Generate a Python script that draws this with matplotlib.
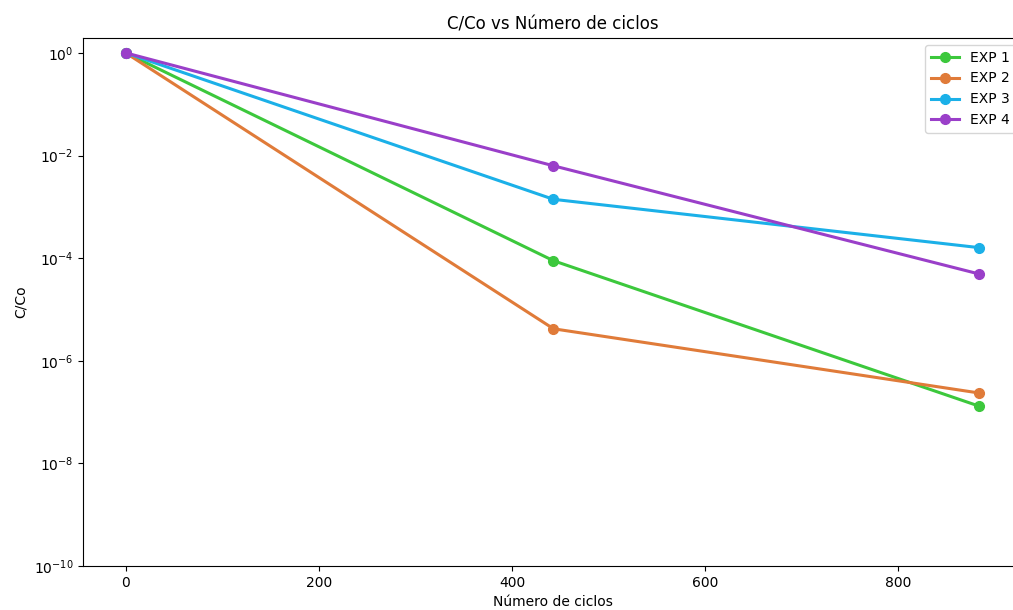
import matplotlib
matplotlib.use("Agg")
import matplotlib.pyplot as plt

# ── Data ───────────────────────────────────────────
ciclos = [0, 443, 884]
exp_labels = ["EXP 1", "EXP 2", "EXP 3", "EXP 4"]
exp1 = [1.0, 8.9e-5, 1.3e-7]
exp2 = [1.0, 4.2e-6, 2.35e-7]
exp3 = [1.0, 1.4e-3, 1.6e-4]
exp4 = [1.0, 6.3e-3, 4.9e-5]
series = [exp1, exp2, exp3, exp4]
colors = ["#3cc83c", "#e07b39", "#1bb0e8", "#9a3fc9"]

fig = plt.figure(figsize=(10.13, 6.10), dpi=100)
# axes runs past the right edge, as in the (cropped) reference
ax = fig.add_axes([83 / 1013, 44 / 610, (1022 - 83) / 1013, (566 - 38) / 610])

for vals, lab, col in zip(series, exp_labels, colors):
    ax.plot(ciclos, vals, marker="o", color=col, linewidth=2.2,
            markersize=7, label=lab)

ax.set_yscale("log")
ax.set_ylim(1e-10, 1.95)
ax.set_yticks([1e0, 1e-2, 1e-4, 1e-6, 1e-8, 1e-10])
ax.minorticks_off()

ax.set_title("C/Co vs Número de ciclos", fontsize=12)
ax.set_xlabel("Número de ciclos")
ax.set_ylabel("C/Co")
ax.legend(loc="upper right")

fig.savefig("out.png", dpi=100)
